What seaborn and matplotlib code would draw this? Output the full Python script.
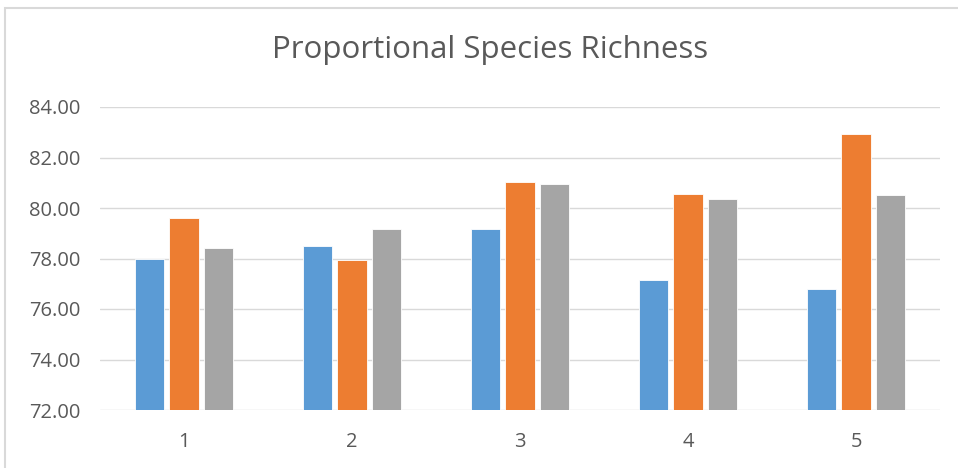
import matplotlib
matplotlib.use("Agg")
import matplotlib.pyplot as plt
import seaborn as sns
import pandas as pd
from matplotlib.patches import Rectangle

categories = ["1", "2", "3", "4", "5"]
series_names = ["Series1", "Series2", "Series3"]
series1 = [78.00, 78.51, 79.18, 77.14, 76.78]
series2 = [79.59, 77.96, 81.01, 80.55, 82.95]
series3 = [78.40, 79.18, 80.95, 80.35, 80.50]
y_ticks = [72, 74, 76, 78, 80, 82, 84]
colors = ["#5B9BD5", "#ED7D31", "#A5A5A5"]

rows = []
for name, vals in zip(series_names, [series1, series2, series3]):
    for c, v in zip(categories, vals):
        rows.append({"Group": c, "Series": name, "Value": v})
df = pd.DataFrame(rows)

sns.set_theme(style="white")
plt.rcParams["font.family"] = ["Open Sans", "DejaVu Sans"]

fig = plt.figure(figsize=(9.58, 4.68), dpi=100)
ax = fig.add_axes([100 / 958, 1 - 410 / 468, 840 / 958, 303 / 468])

sns.barplot(data=df, x="Group", y="Value", hue="Series", order=categories,
            hue_order=series_names, palette=colors, width=0.62, gap=0.16,
            saturation=1, edgecolor="white", linewidth=0.6, ax=ax,
            legend=False, zorder=3)

ax.set_ylim(72, 84)
ax.set_yticks(y_ticks)
ax.set_yticklabels([f"{t:.2f}" for t in y_ticks])
ax.set_xlabel("")
ax.set_ylabel("")
ax.grid(axis="y", color="#D9D9D9", linewidth=1.0, zorder=0)
ax.set_axisbelow(True)
for s in ax.spines.values():
    s.set_visible(False)
ax.tick_params(axis="both", length=0, labelsize=14.5, colors="#595959")
ax.tick_params(axis="y", pad=14)
ax.tick_params(axis="x", pad=16)
ax.set_xlim(-0.5, 4.5)

fig.text(490 / 958, 1 - 58 / 468, "Proportional Species Richness",
         ha="center", va="baseline", fontsize=22.5, color="#595959")

# chart-area frame
fig.patches.append(Rectangle((5 / 958, -0.01), 1.0, 1 - 8 / 468 + 0.01,
                             transform=fig.transFigure, fill=False,
                             edgecolor="#D9D9D9", linewidth=1.5))

fig.savefig("out.png", dpi=100, facecolor="white")
